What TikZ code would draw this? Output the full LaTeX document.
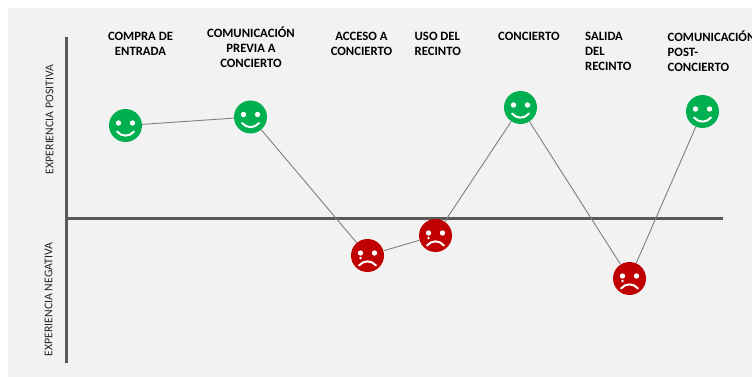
\documentclass[tikz,border=0pt]{standalone}
\usepackage{fontspec}
\setmainfont{Carlito}
\definecolor{panelgray}{HTML}{F2F2F2}
\definecolor{axisgray}{HTML}{595959}
\definecolor{linegray}{HTML}{7F7F7F}
\definecolor{facegreen}{HTML}{00B050}
\definecolor{facered}{HTML}{C00000}
\tikzset{
	happy/.style={circle,fill=facegreen,minimum size=33pt,inner sep=0pt},
	sad/.style={circle,fill=facered,minimum size=33pt,inner sep=0pt},
	etapa/.style={font=\fontsize{12.7}{15}\selectfont\bfseries,text=black,inner sep=0pt},
	eje/.style={font=\fontsize{11.8}{13}\selectfont,text=black!85,rotate=90,inner sep=0pt},
	axisline/.style={draw=axisgray,line width=3pt},
	link/.style={draw=linegray,line width=.9pt},
	pics/smile/.style={code={
		\fill[white] (-7,-2.5) circle (2.7) (7,-2.5) circle (2.7);
		\draw[white,line width=2pt,line cap=round] (-8.5,6) .. controls (-4,11.5) and (4,11.5) .. (8.5,6);
	}},
	pics/frown/.style={code={
		\fill[white] (-7,-2.5) circle (2.7) (7,-2.5) circle (2.7);
		\fill[white] (-7,2.5) circle (1.3);
		\draw[white,line width=2pt,line cap=round] (-8.5,10) .. controls (-4,4.5) and (4,4.5) .. (8.5,10);
	}}
}
\begin{document}
\begin{tikzpicture}[x=1pt,y=-1pt]

	\useasboundingbox (0,0) rectangle (752,377);
	\fill[panelgray] (8,8) rectangle (752,377);

	\coordinate (top) at (66,37);
	\coordinate (bottom) at (66,363);
	\coordinate (origin) at (66,218);
	\coordinate (end) at (723,218);
	\draw[axisline] (top) -- (bottom);
	\draw[axisline] (origin) -- (end);

	\node[eje] (positiva) at (49.5,119.5) {EXPERIENCIA POSITIVA};
	\node[eje] (negativa) at (48.5,299.5) {EXPERIENCIA NEGATIVA};

	\node[etapa,align=center] (compra) at (140.5,44) {COMPRA DE\\ENTRADA};
	\node[etapa,align=center] (previa) at (251,47) {COMUNICACIÓN\\PREVIA A\\CONCIERTO};
	\node[etapa,align=center] (acceso) at (361.5,44) {ACCESO A\\CONCIERTO};
	\node[etapa,align=left,anchor=west] (uso) at (414.5,44) {USO DEL\\RECINTO};
	\node[etapa,anchor=west] (concierto) at (498,36.5) {CONCIERTO};
	\node[etapa,align=left,anchor=west] (salida) at (585,51.5) {SALIDA\\DEL\\RECINTO};
	\node[etapa,align=left,anchor=west] (post) at (667.5,51.5) {COMUNICACIÓN\\POST-\\CONCIERTO};

	\node[happy] (f1) at (125.5,125.5) {};
	\node[happy] (f2) at (250.5,117) {};
	\node[sad] (f3) at (367.5,255.5) {};
	\node[sad] (f4) at (435.5,235.5) {};
	\node[happy] (f5) at (520.5,107.5) {};
	\node[sad] (f6) at (629.5,278.5) {};
	\node[happy] (f7) at (702.5,111.5) {};

	\foreach \f in {f1,f2,f5,f7}
		\pic at (\f) {smile};
	\foreach \f in {f3,f4,f6}
		\pic at (\f) {frown};

	\draw[link] (f1) -- (f2);
	\draw[link] (f2) -- (f3);
	\draw[link] (f3) -- (f4);
	\draw[link] (f4) -- (f5);
	\draw[link] (f5) -- (f6);
	\draw[link] (f6) -- (f7);

\end{tikzpicture}
\end{document}
